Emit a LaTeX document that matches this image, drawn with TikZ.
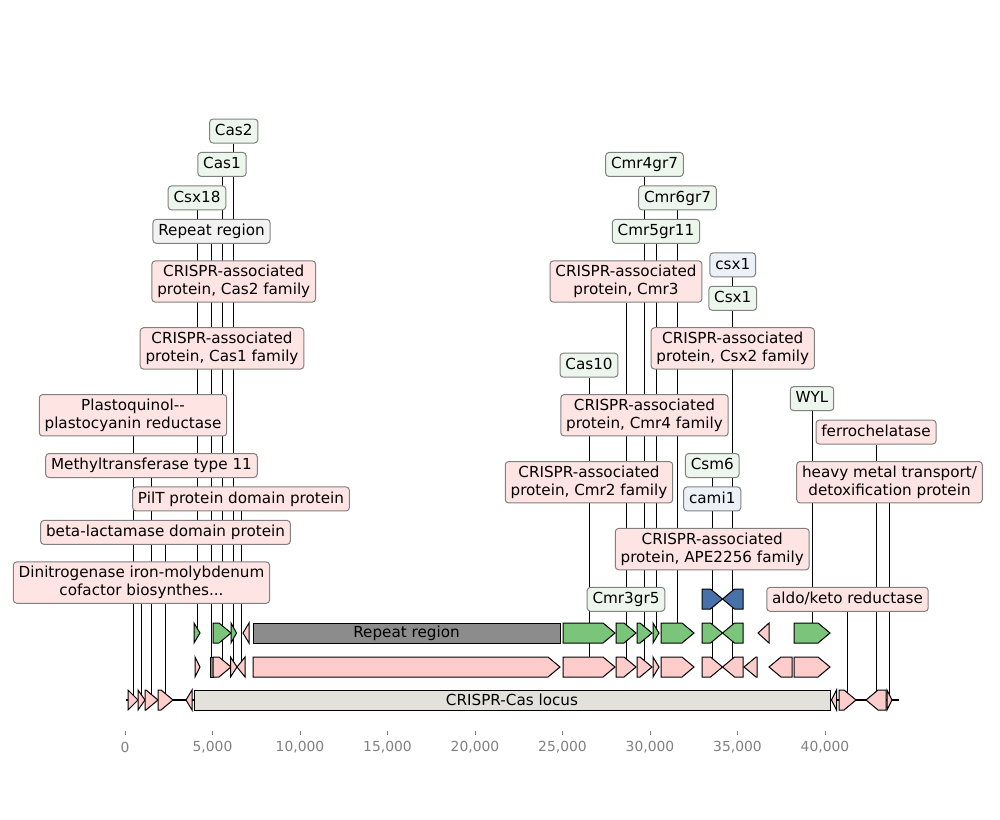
\documentclass[tikz,border=0pt]{standalone}
\usepackage{fontspec}
\setmainfont{DejaVu Sans}
\definecolor{featpink}{RGB}{255,204,204}
\definecolor{featgreen}{RGB}{122,197,122}
\definecolor{featblue}{RGB}{70,113,171}
\definecolor{repgrey}{RGB}{140,140,140}
\definecolor{locusgrey}{RGB}{226,225,220}
\definecolor{labpink}{RGB}{255,228,228}
\definecolor{labgreen}{RGB}{237,246,237}
\definecolor{labblue}{RGB}{236,241,248}
\definecolor{labgrey}{RGB}{242,242,242}
\definecolor{boxedge}{RGB}{128,128,128}
\definecolor{tickgrey}{RGB}{128,128,128}
\pgfdeclarelayer{leaders}
\pgfsetlayers{leaders,main}

% forward feature: name, start, end, row centre, fill
\newcommand\featfwd[5]{%
  \pgfmathsetmacro\hx{max(#2,#3-12)}%
  \pgfmathsetmacro\mx{(#2+#3)/2}%
  \coordinate (#1) at (\mx,#4);
  \draw[feat,fill=#5] (#2,#4-10) -- (\hx,#4-10) -- (#3,#4) -- (\hx,#4+10) -- (#2,#4+10) -- cycle;}
% reverse feature
\newcommand\featrev[5]{%
  \pgfmathsetmacro\hx{min(#3,#2+12)}%
  \pgfmathsetmacro\mx{(#2+#3)/2}%
  \coordinate (#1) at (\mx,#4);
  \draw[feat,fill=#5] (#3,#4-10) -- (\hx,#4-10) -- (#2,#4) -- (\hx,#4+10) -- (#3,#4+10) -- cycle;}
% strandless feature
\newcommand\featbox[5]{%
  \pgfmathsetmacro\mx{(#2+#3)/2}%
  \coordinate (#1) at (\mx,#4);
  \draw[feat,fill=#5] (#2,#4-10) rectangle (#3,#4+10);}

\begin{document}
\begin{tikzpicture}[x=0.75pt,y=-0.75pt,
  feat/.style={draw=black,line width=0.75pt,line join=miter},
  lab/.style={draw=boxedge,line width=0.75pt,rounded corners=2.5pt,
    font=\fontsize{11.4}{13.4}\selectfont,inner xsep=4pt,inner ysep=0pt},
  one/.style={text height=8.9pt,text depth=2.6pt,minimum height=18pt},
  two/.style={align=center,minimum height=31pt},
  lp/.style={lab,fill=labpink},
  lg/.style={lab,fill=labgreen},
  lb/.style={lab,fill=labblue},
  lr/.style={lab,fill=labgrey},
  leader/.style={draw=black,line width=0.5pt},
  axisline/.style={draw=black,line width=1.1pt},
  tickmark/.style={draw=tickgrey,line width=0.6pt},
  ticklabel/.style={text=tickgrey,font=\fontsize{10.4}{12}\selectfont,inner sep=0pt}]
\useasboundingbox (0,0) rectangle (1000,819);

% sequence axis and scale
\draw[axisline] (126,700) -- (899,700);
\foreach \k/\t in {0/0,1/{5,000},2/{10,000},3/{15,000},4/{20,000},5/{25,000},6/{30,000},7/{35,000},8/{40,000}}{
  \draw[tickmark] (125+87.5*\k,731) -- (125+87.5*\k,735);
  \node[ticklabel] (tk\k) at (125+87.5*\k,747) {\t};
}

% bottom track: genes flanking the locus
\featfwd{f-plasto}{128}{138}{700}{featpink}
\featfwd{f-dinitro}{138}{145}{700}{featpink}
\featfwd{f-methyl}{145}{158}{700}{featpink}
\featfwd{f-betalac}{158}{173}{700}{featpink}
\featrev{f-u1}{186}{192}{700}{featpink}
\featbox{f-locus}{194}{830}{700}{locusgrey}
\node[font=\fontsize{11.4}{13.4}\selectfont] (t-locus) at (f-locus) {CRISPR-Cas locus};
\featrev{f-u2}{831.5}{836.5}{700}{featpink}
\featfwd{f-aldo}{839}{856}{700}{featpink}
\featrev{f-ferro}{866}{886}{700}{featpink}
\featfwd{f-heavy}{887}{892}{700}{featpink}

% middle track: pink annotations
\featfwd{f-u3}{195}{200}{667}{featpink}
\featbox{f-rep}{210}{213}{667}{repgrey}
\featfwd{f-cas1fam}{213}{231}{667}{featpink}
\featfwd{f-cas2fam}{230.5}{237}{667}{featpink}
\featrev{f-pilt}{237}{245}{667}{featpink}
\featfwd{f-u4}{253}{560}{667}{featpink}
\featfwd{f-cmr2fam}{563}{615}{667}{featpink}
\featfwd{f-cmr3}{616}{636}{667}{featpink}
\featfwd{f-cmr4fam}{637}{652}{667}{featpink}
\featfwd{f-u5}{653}{659}{667}{featpink}
\featfwd{f-u6}{661}{694}{667}{featpink}
\featfwd{f-ape}{702}{722.5}{667}{featpink}
\featrev{f-csx2fam}{722.5}{743}{667}{featpink}
\featrev{f-u7}{744}{757}{667}{featpink}
\featrev{f-u8}{769}{792}{667}{featpink}
\featfwd{f-u9}{794}{830}{667}{featpink}

% upper track: green annotations
\featfwd{f-csx18}{194}{200}{633}{featgreen}
\featfwd{f-cas1}{213}{231}{633}{featgreen}
\featfwd{f-cas2}{231}{236.5}{633}{featgreen}
\featrev{f-u10}{243}{249}{633}{featpink}
\featbox{f-repbar}{253}{560}{633}{repgrey}
\node[font=\fontsize{11.4}{13.4}\selectfont] (t-rep) at (f-repbar) {Repeat region};
\featfwd{f-cas10}{563}{615}{633}{featgreen}
\featfwd{f-cmr3gr5}{616}{636}{633}{featgreen}
\featfwd{f-cmr4gr7}{637}{652}{633}{featgreen}
\featfwd{f-cmr5gr11}{653}{659}{633}{featgreen}
\featfwd{f-cmr6gr7}{661}{694}{633}{featgreen}
\featfwd{f-csm6}{702}{722.5}{633}{featgreen}
\featrev{f-csx1g}{722.5}{743}{633}{featgreen}
\featrev{f-u11}{758}{769}{633}{featpink}
\featfwd{f-wyl}{794}{830}{633}{featgreen}

% top track: blue annotations
\featfwd{f-cami1}{702}{722.5}{599}{featblue}
\featrev{f-csx1b}{722.5}{743}{599}{featblue}

% labels, left cluster
\node[lg,one] (l-cas2) at (233.75,131) {Cas2};
\node[lg,one] (l-cas1) at (222,164.45) {Cas1};
\node[lg,one] (l-csx18) at (197,197.9) {Csx18};
\node[lr,one] (l-rep) at (211.5,231.35) {Repeat region};
\node[lp,two] (l-cas2fam) at (233.75,281.5) {CRISPR-associated\\protein, Cas2 family};
\node[lp,two] (l-cas1fam) at (222,348.4) {CRISPR-associated\\protein, Cas1 family};
\node[lp,two] (l-plasto) at (133,415.3) {Plastoquinol-{}-\\plastocyanin reductase};
\node[lp,one] (l-methyl) at (151.5,465.5) {Methyltransferase type 11};
\node[lp,one] (l-pilt) at (241,498.95) {PilT protein domain protein};
\node[lp,one] (l-betalac) at (165.5,532.4) {beta-lactamase domain protein};
\node[lp,two] (l-dinitro) at (141.5,582.6) {Dinitrogenase iron-molybdenum\\cofactor biosynthes...};

% labels, right cluster
\node[lg,one] (l-cmr4gr7) at (644.5,164.45) {Cmr4gr7};
\node[lg,one] (l-cmr6gr7) at (677.5,197.9) {Cmr6gr7};
\node[lg,one] (l-cmr5gr11) at (656,231.35) {Cmr5gr11};
\node[lp,two] (l-cmr3) at (626,281.5) {CRISPR-associated\\protein, Cmr3};
\node[lb,one] (l-csx1b) at (732.75,264.8) {csx1};
\node[lg,one] (l-csx1g) at (732.75,298.25) {Csx1};
\node[lp,two] (l-csx2fam) at (732.75,348.4) {CRISPR-associated\\protein, Csx2 family};
\node[lg,one] (l-cas10) at (589,365.15) {Cas10};
\node[lg,one] (l-wyl) at (812,398.6) {WYL};
\node[lp,two] (l-cmr4fam) at (644.5,415.3) {CRISPR-associated\\protein, Cmr4 family};
\node[lp,one] (l-ferro) at (876,432.05) {ferrochelatase};
\node[lp,two] (l-cmr2fam) at (589,482.2) {CRISPR-associated\\protein, Cmr2 family};
\node[lg,one] (l-csm6) at (712.25,465.5) {Csm6};
\node[lp,two] (l-heavy) at (889.5,482.2) {heavy metal transport/\\detoxification protein};
\node[lb,one] (l-cami1) at (712.25,498.95) {cami1};
\node[lp,two] (l-ape) at (712.25,549.1) {CRISPR-associated\\protein, APE2256 family};
\node[lg,one] (l-cmr3gr5) at (626,599.3) {Cmr3gr5};
\node[lp,one] (l-aldo) at (847.5,599.3) {aldo/keto reductase};

% leader lines, kept behind features and boxes
\begin{pgfonlayer}{leaders}
\foreach \n in {cas2,cas1,csx18,rep,cas2fam,cas1fam,plasto,methyl,pilt,betalac,dinitro,
  cmr4gr7,cmr6gr7,cmr5gr11,cmr3,csx1b,csx1g,csx2fam,cas10,wyl,cmr4fam,ferro,cmr2fam,
  csm6,heavy,cami1,ape,cmr3gr5,aldo}{
  \draw[leader] (f-\n) -- (l-\n);
}
\end{pgfonlayer}
\end{tikzpicture}
\end{document}
